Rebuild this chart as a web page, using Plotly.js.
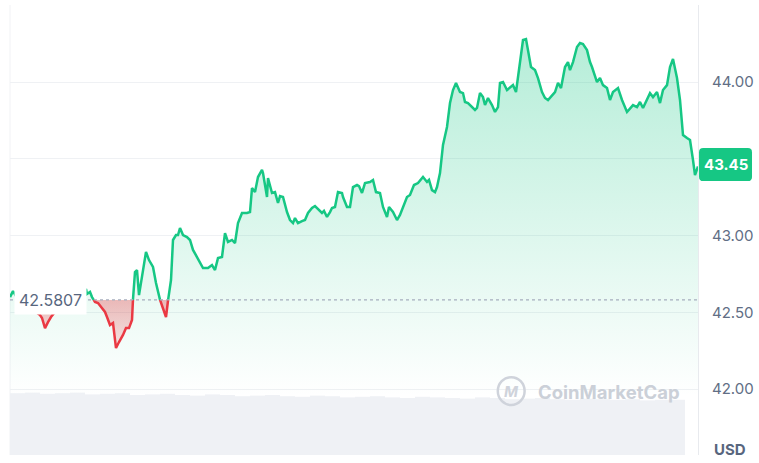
<!DOCTYPE html>
<html>
<head>
<meta charset="utf-8">
<script src="https://cdn.plot.ly/plotly-3.0.1.min.js"></script>
<style>
  html, body { margin: 0; padding: 0; background: #fff; }
  #chart { width: 759px; height: 463px; }
</style>
</head>
<body>
<div id="chart"></div>
<script>
// minutes since the start of the window, and the price at that moment (USD)
const minutes = [
  0, 6, 12, 20, 28, 36, 44, 52, 60, 64,
  70, 76, 82, 90, 100, 110, 120, 130, 138, 144,
  148, 152, 154, 160, 164, 170, 176, 184, 190, 194,
  200, 206, 212, 218, 226, 232, 238, 244, 246, 250,
  254, 258, 264, 272, 278, 286, 292, 298, 306, 312,
  316, 322, 326, 332, 336, 340, 346, 354, 360, 366,
  374, 386, 396, 404, 410, 416, 424, 430, 436, 444,
  450, 456, 464, 474, 480, 484, 490, 496, 504, 506,
  514, 516, 524, 530, 536, 540, 546, 554, 560, 566,
  570, 576, 584, 590, 596, 604, 610, 616, 624, 628,
  634, 640, 644, 650, 656, 664, 666, 674, 680, 686,
  694, 698, 704, 710, 720, 726, 732, 740, 746, 754,
  758, 766, 774, 780, 786, 794, 800, 808, 816, 822,
  826, 834, 838, 844, 850, 854, 860, 866, 874, 880,
  886, 892, 896, 900, 906, 910, 916, 924, 930, 934,
  940, 946, 950, 956, 964, 970, 976, 980, 986, 994,
  1000, 1006, 1012, 1016, 1022, 1026, 1032, 1036, 1042, 1050,
  1056, 1064, 1070, 1076, 1084, 1090, 1096, 1102, 1110, 1116,
  1120, 1126, 1134, 1140, 1146, 1154, 1160, 1164, 1174, 1180,
  1186, 1194, 1200, 1206, 1216, 1224, 1234, 1240, 1246, 1254,
  1260, 1266, 1274, 1280, 1286, 1294, 1300, 1306, 1314, 1320,
  1326, 1334, 1340, 1346, 1354, 1360, 1366, 1370, 1376
];
const prices = [
  42.599, 42.638, 42.606, 42.575, 42.554, 42.534, 42.515, 42.502, 42.482, 42.463,
  42.397, 42.436, 42.469, 42.502, 42.534, 42.560, 42.586, 42.612, 42.645, 42.658,
  42.638, 42.651, 42.619, 42.632, 42.599, 42.567, 42.560, 42.528, 42.502, 42.469,
  42.417, 42.430, 42.267, 42.306, 42.352, 42.397, 42.397, 42.450, 42.585, 42.762,
  42.775, 42.612, 42.730, 42.893, 42.840, 42.795, 42.691, 42.599, 42.528, 42.469,
  42.575, 42.710, 42.971, 43.003, 43.003, 43.049, 43.003, 42.990, 42.971, 42.906,
  42.860, 42.788, 42.788, 42.808, 42.775, 42.853, 42.860, 43.016, 42.958, 42.971,
  42.951, 43.081, 43.147, 43.147, 43.153, 43.309, 43.283, 43.381, 43.427, 43.407,
  43.251, 43.375, 43.277, 43.283, 43.212, 43.257, 43.251, 43.153, 43.101, 43.081,
  43.114, 43.081, 43.094, 43.101, 43.147, 43.179, 43.192, 43.173, 43.147, 43.160,
  43.121, 43.153, 43.179, 43.186, 43.283, 43.277, 43.251, 43.186, 43.186, 43.316,
  43.329, 43.322, 43.277, 43.342, 43.349, 43.362, 43.283, 43.277, 43.186, 43.121,
  43.186, 43.153, 43.101, 43.134, 43.186, 43.251, 43.264, 43.329, 43.342, 43.362,
  43.381, 43.349, 43.362, 43.296, 43.283, 43.316, 43.407, 43.590, 43.707, 43.863,
  43.948, 43.994, 43.967, 43.935, 43.928, 43.870, 43.863, 43.837, 43.818, 43.831,
  43.928, 43.902, 43.850, 43.896, 43.850, 43.805, 43.837, 43.994, 44.000, 43.948,
  43.967, 43.980, 43.935, 44.033, 44.143, 44.274, 44.280, 44.208, 44.098, 44.078,
  44.026, 43.935, 43.896, 43.883, 43.909, 43.935, 43.994, 43.961, 44.098, 44.130,
  44.078, 44.130, 44.228, 44.254, 44.248, 44.208, 44.130, 44.098, 44.000, 44.026,
  43.980, 43.961, 43.883, 43.935, 43.961, 43.883, 43.805, 43.831, 43.850, 43.837,
  43.870, 43.831, 43.883, 43.928, 43.902, 43.935, 43.863, 43.948, 43.980, 44.098,
  44.150, 44.026, 43.883, 43.655, 43.635, 43.622, 43.492, 43.394, 43.450
];
const openPrice = 42.5807;
const lastPrice = 43.45;

// volume, half-hour buckets (millions USD)
const volTimes = [
  15, 45, 75, 105, 135, 165, 195, 225, 255, 285,
  315, 345, 375, 405, 435, 465, 495, 525, 555, 585,
  615, 645, 675, 705, 735, 765, 795, 825, 855, 885,
  915, 945, 975, 1005, 1035, 1065, 1095, 1125, 1155, 1185,
  1215, 1245, 1275, 1305, 1335
];
const volumes = [
  10.3, 10.4, 10.2, 10.3, 10.4, 10.1, 10.2, 10.3, 10.0, 10.1,
  10.2, 10.0, 9.9, 10.1, 10.0, 9.8, 9.9, 10.0, 9.8, 9.7,
  9.9, 9.8, 9.6, 9.7, 9.8, 9.6, 9.5, 9.7, 9.6, 9.5,
  9.4, 9.6, 9.5, 9.3, 9.4, 9.5, 9.3, 9.2, 9.4, 9.3,
  9.2, 9.3, 9.1, 9.2, 9.2
];

// 43.50 sits under the last-price badge, so its label stays empty
const priceTicks = [42, 42.5, 43, 43.5, 44];
const priceTickText = ['42.00', '42.50', '43.00', '', '44.00'];

const GREEN = '#16c784';
const RED = '#ea3943';
const GREY = '#58667e';

/**
 * Split the price line at the opening price, so the part above it
 * can be drawn green and the part below red
 */
function splitAtBase(t, p, base) {
  const up = {x: [], y: []};
  const down = {x: [], y: []};
  for (let i = 0; i < p.length; i++) {
    const above = p[i] >= base;
    if (i > 0) {
      const prevAbove = p[i - 1] >= base;
      if (above != prevAbove) {
        const f = (base - p[i - 1]) / (p[i] - p[i - 1]);
        const tc = t[i - 1] + f * (t[i] - t[i - 1]);
        const from = prevAbove ? up : down;
        const to = above ? up : down;
        from.x.push(tc, null); from.y.push(base, null);
        to.x.push(tc); to.y.push(base);
      }
    }
    const side = above ? up : down;
    side.x.push(t[i]);
    side.y.push(p[i]);
  }
  return [up, down];
}

const [up, down] = splitAtBase(minutes, prices, openPrice);

const data = [
  { x: volTimes, y: volumes, type: 'bar', yaxis: 'y', width: 30,
    marker: {color: '#eff1f5', line: {width: 0}}, hoverinfo: 'skip' },
  { x: up.x, y: up.y, yaxis: 'y2', type: 'scatter', mode: 'lines',
    line: {color: GREEN, width: 2.5}, connectgaps: false,
    fill: 'tozeroy',
    fillgradient: {type: 'vertical', start: 41.95, stop: 44.3,
      colorscale: [[0, 'rgba(22,199,132,0.0)'], [1, 'rgba(22,199,132,0.32)']]} },
  { x: down.x, y: down.y, yaxis: 'y2', type: 'scatter', mode: 'lines',
    line: {color: RED, width: 2.5}, connectgaps: false,
    fill: 'toself',
    fillgradient: {type: 'vertical', start: 42.25, stop: openPrice,
      colorscale: [[0, 'rgba(234,57,67,0.12)'], [1, 'rgba(234,57,67,0.34)']]} }
];

// rounded badge for the last price, drawn right of the plot
const bx0 = 1.0015, bx1 = 1.0785, rx = 0.006;
const by0 = lastPrice - 0.095, by1 = lastPrice + 0.12, ry = 0.027;
const badgePath = 'M ' + (bx0 + rx) + ' ' + by1 +
  ' L ' + (bx1 - rx) + ' ' + by1 + ' Q ' + bx1 + ' ' + by1 + ' ' + bx1 + ' ' + (by1 - ry) +
  ' L ' + bx1 + ' ' + (by0 + ry) + ' Q ' + bx1 + ' ' + by0 + ' ' + (bx1 - rx) + ' ' + by0 +
  ' L ' + (bx0 + rx) + ' ' + by0 + ' Q ' + bx0 + ' ' + by0 + ' ' + bx0 + ' ' + (by0 + ry) +
  ' L ' + bx0 + ' ' + (by1 - ry) + ' Q ' + bx0 + ' ' + by1 + ' ' + (bx0 + rx) + ' ' + by1 + ' Z';

const layout = {
  width: 759,
  height: 463,
  margin: {l: 10, r: 61, t: 5, b: 8},
  paper_bgcolor: '#ffffff',
  plot_bgcolor: '#ffffff',
  showlegend: false,
  font: {family: 'Inter, "Noto Sans", sans-serif', color: GREY},
  xaxis: {range: [0, 1376], showgrid: false, zeroline: false,
    showticklabels: false, showline: false, ticks: ''},
  yaxis: {range: [0, 75], visible: false, showgrid: false, zeroline: false},
  yaxis2: {overlaying: 'y', side: 'right', range: [41.57, 44.502],
    tickvals: priceTicks, ticktext: priceTickText,
    showgrid: true, gridcolor: '#eff1f4', gridwidth: 1, zeroline: false,
    showline: true, linecolor: '#e8eaee', linewidth: 1, ticks: '',
    ticklabelstandoff: 10,
    tickfont: {family: 'Inter, "Noto Sans", sans-serif', size: 15, color: '#616e85'}},
  shapes: [
    { type: 'line', xref: 'paper', yref: 'paper', x0: 0, x1: 0, y0: 0, y1: 1,
      line: {color: '#f1f2f5', width: 1}, layer: 'below' },
    { type: 'line', xref: 'paper', yref: 'y2', x0: 0, x1: 1, y0: openPrice, y1: openPrice,
      line: {color: '#a6adbd', width: 1.2, dash: 'dot'} },
    { type: 'path', xref: 'paper', yref: 'y2', path: badgePath,
      fillcolor: GREEN, line: {width: 0} },
    { type: 'circle', xref: 'paper', yref: 'paper',
      x0: 0.709, x1: 0.748, y0: 0.111, y1: 0.173,
      line: {color: '#cfd3db', width: 2.5} }
  ],
  annotations: [
    { xref: 'paper', yref: 'y2', x: 0.006, y: openPrice, xanchor: 'left', yanchor: 'middle',
      text: '42.5807', showarrow: false, bgcolor: '#ffffff', borderpad: 4,
      font: {size: 16, color: GREY} },
    { xref: 'paper', yref: 'y2', x: (bx0 + bx1) / 2, y: lastPrice + 0.012,
      xanchor: 'center', yanchor: 'middle', text: '<b>43.45</b>', showarrow: false,
      font: {size: 15, color: '#ffffff'} },
    { xref: 'paper', yref: 'paper', x: 1.0727, y: 0.013, xanchor: 'right', yanchor: 'middle',
      text: '<b>USD</b>', showarrow: false, font: {size: 15, color: GREY} },
    { xref: 'paper', yref: 'paper', x: 0.7285, y: 0.142, xanchor: 'center', yanchor: 'middle',
      text: '<b><i>M</i></b>', showarrow: false, font: {size: 15, color: '#cfd3db'} },
    { xref: 'paper', yref: 'paper', x: 0.764, y: 0.141, xanchor: 'left', yanchor: 'middle',
      text: '<b>CoinMarketCap</b>', showarrow: false,
      font: {size: 18.5, color: '#cbd0d8'} }
  ]
};

Plotly.newPlot('chart', data, layout, {displayModeBar: false, staticPlot: true});
</script>
</body>
</html>
